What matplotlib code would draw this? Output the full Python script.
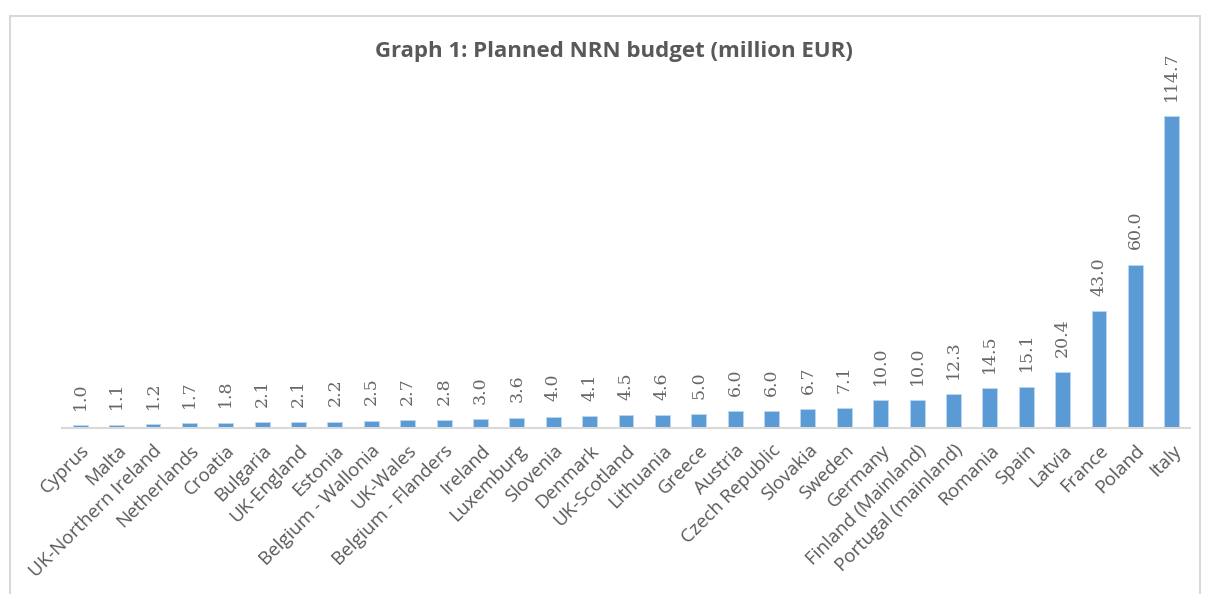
import matplotlib.pyplot as plt
from matplotlib.patches import Rectangle

# Данные: планируемый бюджет NRN по странам (млн EUR)
countries = ['Cyprus', 'Malta', 'UK-Northern Ireland', 'Netherlands', 'Croatia',
             'Bulgaria', 'UK-England', 'Estonia', 'Belgium - Wallonia', 'UK-Wales',
             'Belgium - Flanders', 'Ireland', 'Luxemburg', 'Slovenia', 'Denmark',
             'UK-Scotland', 'Lithuania', 'Greece', 'Austria', 'Czech Republic',
             'Slovakia', 'Sweden', 'Germany', 'Finland (Mainland)',
             'Portugal (mainland)', 'Romania', 'Spain', 'Latvia', 'France',
             'Poland', 'Italy']
budget = [1.0, 1.1, 1.2, 1.7, 1.8, 2.1, 2.1, 2.2, 2.5, 2.7, 2.8, 3.0, 3.6, 4.0,
          4.1, 4.5, 4.6, 5.0, 6.0, 6.0, 6.7, 7.1, 10.0, 10.0, 12.3, 14.5, 15.1,
          20.4, 43.0, 60.0, 114.7]

bar_color = '#5B9BD5'
text_color = '#595959'

fig = plt.figure(figsize=(12.06, 5.94), dpi=100)
ax = fig.add_axes([62 / 1206, 1 - 427.5 / 594, 1128 / 1206, 380 / 594])

x = range(len(countries))
bars = ax.bar(x, budget, width=0.41, color=bar_color, edgecolor='#BDD7EE', linewidth=0.6)

# Подписи значений над столбцами
for b, v in zip(bars, budget):
    ax.annotate(f'{v:.1f}', (b.get_x() + b.get_width() / 2, v),
                xytext=(0, 11), textcoords='offset points',
                rotation=90, ha='center', va='bottom',
                fontsize=12.5, color='#666666', family='DejaVu Serif',
                fontweight='light')

ax.set_xlim(-0.5, len(countries) - 0.5)
ax.set_ylim(0, 140)
ax.set_xticks(list(x))
ax.set_xticklabels(countries, rotation=45, ha='right', rotation_mode='anchor',
                   fontsize=13.5, color=text_color, family='Open Sans')
ax.tick_params(axis='x', length=0, pad=10)
ax.set_yticks([])
for s in ['top', 'right', 'left']:
    ax.spines[s].set_visible(False)
ax.spines['bottom'].set_color('#D9D9D9')
ax.spines['bottom'].set_linewidth(1.5)

fig.text(614 / 1206, 1 - 52 / 594, 'Graph 1: Planned NRN budget (million EUR)',
         ha='center', va='center', fontsize=16, fontweight='bold',
         color=text_color, family='Open Sans')

# Рамка диаграммы
fig.patches.append(Rectangle((10 / 1206, -0.1), 1190 / 1206, 1 - 16 / 594 + 0.1,
                             transform=fig.transFigure, fill=False,
                             edgecolor='#D9D9D9', linewidth=1.5))

fig.savefig('out.png', dpi=100)
